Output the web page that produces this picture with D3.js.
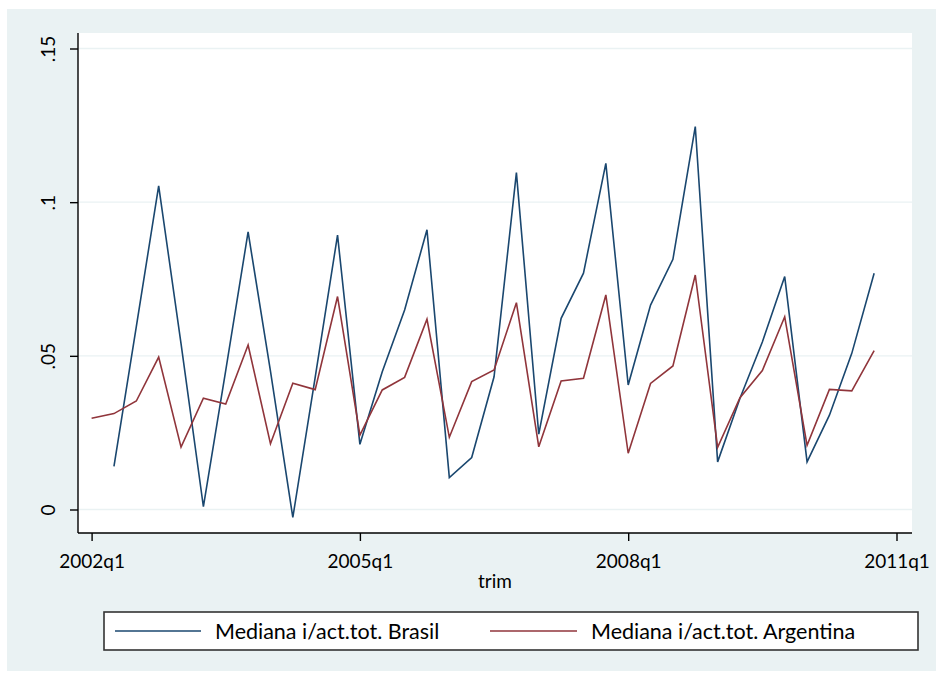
<!DOCTYPE html>
<html>
<head>
<meta charset="utf-8">
<script src="https://cdn.jsdelivr.net/npm/d3@7/dist/d3.min.js"></script>
<style>
  html, body { margin: 0; padding: 0; background: #ffffff; }
  svg { display: block; }
  text { font-family: Lato, "Open Sans", sans-serif; fill: #000; }
</style>
</head>
<body>
<svg id="chart" width="939" height="676"></svg>
<script>
// Quarterly medians of interest over total assets, 2002q1 .. 2010q4
const firstYear = 2002;
const brasil = [
  null,   0.0140, 0.0595, 0.1053,
  0.0540, 0.0009, 0.0453, 0.0903,
  0.0450, -0.0026, 0.0430, 0.0893,
  0.0212, 0.0448, 0.0649, 0.0910,
  0.0104, 0.0169, 0.0432, 0.1096,
  0.0245, 0.0622, 0.0769, 0.1126,
  0.0405, 0.0665, 0.0814, 0.1246,
  0.0155, 0.0362, 0.0545, 0.0758,
  0.0155, 0.0307, 0.0508, 0.0769
];
const argentina = [
  0.0297, 0.0312, 0.0353, 0.0496,
  0.0203, 0.0362, 0.0343, 0.0535,
  0.0214, 0.0411, 0.0390, 0.0693,
  0.0242, 0.0389, 0.0430, 0.0619,
  0.0235, 0.0416, 0.0454, 0.0673,
  0.0204, 0.0418, 0.0427, 0.0698,
  0.0183, 0.0410, 0.0467, 0.0763,
  0.0202, 0.0364, 0.0452, 0.0627,
  0.0209, 0.0391, 0.0386, 0.0517
];
const xTickLabels = ["2002q1", "2005q1", "2008q1", "2011q1"];
const yTickValues = [0, 0.05, 0.1, 0.15];
const yTickLabels = ["0", ".05", ".1", ".15"];
const xTitle = "trim";
const seriesNames = ["Mediana i/act.tot. Brasil", "Mediana i/act.tot. Argentina"];

// quarter label -> index counted from firstYear q1
const quarterIndex = s => {
  const m = /^(\d{4})q(\d)$/.exec(s);
  return (+m[1] - firstYear) * 4 + (+m[2] - 1);
};

const svg = d3.select("#chart");
const plot = { left: 78, right: 912, top: 33, bottom: 533 };
const colors = { brasil: "#1a476f", argentina: "#90353b" };

// graph region
svg.append("rect").attr("x", 7).attr("y", 9).attr("width", 929).attr("height", 662)
  .attr("fill", "#eaf2f3");
svg.append("rect").attr("x", plot.left).attr("y", plot.top)
  .attr("width", plot.right - plot.left).attr("height", plot.bottom - plot.top)
  .attr("fill", "#ffffff");

const x = d3.scaleLinear().domain([0, quarterIndex("2011q1")]).range([91.6, 896.5]);
const y = d3.scaleLinear().domain([0, 0.15]).range([509.5, 48.5]);

// horizontal grid
svg.append("g").selectAll("line").data(yTickValues).join("line")
  .attr("x1", plot.left).attr("x2", plot.right)
  .attr("y1", d => y(d)).attr("y2", d => y(d))
  .attr("stroke", "#eaf2f3").attr("stroke-width", 1.4);

// series lines
const line = d3.line()
  .defined(d => d != null)
  .x((d, i) => x(i))
  .y(d => y(d));

svg.append("path").datum(brasil).attr("d", line)
  .attr("fill", "none").attr("stroke", colors.brasil).attr("stroke-width", 1.6);
svg.append("path").datum(argentina).attr("d", line)
  .attr("fill", "none").attr("stroke", colors.argentina).attr("stroke-width", 1.6);

// y axis
const yAxis = d3.axisLeft(y).tickValues(yTickValues)
  .tickFormat((d, i) => yTickLabels[i]).tickSize(8).tickSizeOuter(0);
const gy = svg.append("g").attr("transform", `translate(${plot.left},0)`).call(yAxis);
gy.select(".domain").remove();
gy.append("line").attr("x1", 0).attr("x2", 0).attr("y1", plot.top).attr("y2", plot.bottom)
  .attr("stroke", "#000").attr("stroke-width", 1.4);
gy.selectAll(".tick line").attr("stroke", "#000").attr("stroke-width", 1.4);
gy.selectAll(".tick text")
  .attr("font-size", 19).attr("font-family", "Lato, sans-serif").attr("fill", "#000")
  .attr("text-anchor", "middle").attr("dominant-baseline", "central")
  .attr("x", 0).attr("y", 0).attr("dy", 0)
  .attr("transform", "translate(-31,0) rotate(-90)");

// x axis
const xAxis = d3.axisBottom(x).tickValues(xTickLabels.map(quarterIndex))
  .tickFormat((d, i) => xTickLabels[i]).tickSize(8).tickSizeOuter(0);
const gx = svg.append("g").attr("transform", `translate(0,${plot.bottom})`).call(xAxis);
gx.select(".domain").remove();
gx.append("line").attr("x1", plot.left).attr("x2", plot.right).attr("y1", 0).attr("y2", 0)
  .attr("stroke", "#000").attr("stroke-width", 1.4);
gx.selectAll(".tick line").attr("stroke", "#000").attr("stroke-width", 1.4);
gx.selectAll(".tick text")
  .attr("font-size", 19).attr("font-family", "Lato, sans-serif").attr("fill", "#000")
  .attr("y", 27).attr("dy", 0).attr("dominant-baseline", "central");

// x title
svg.append("text").attr("x", 495).attr("y", 580)
  .attr("text-anchor", "middle").attr("dominant-baseline", "central")
  .attr("font-size", 19).text(xTitle);

// legend
const lg = svg.append("g");
lg.append("rect").attr("x", 104).attr("y", 612).attr("width", 814).attr("height", 38)
  .attr("fill", "#ffffff").attr("stroke", "#333333").attr("stroke-width", 1.6);
const legendItems = [
  { name: seriesNames[0], color: colors.brasil, x0: 115, x1: 201, tx: 215 },
  { name: seriesNames[1], color: colors.argentina, x0: 490, x1: 577, tx: 591 }
];
legendItems.forEach(it => {
  lg.append("line").attr("x1", it.x0).attr("x2", it.x1).attr("y1", 631).attr("y2", 631)
    .attr("stroke", it.color).attr("stroke-width", 1.6);
  lg.append("text").attr("x", it.tx).attr("y", 631).attr("dominant-baseline", "central")
    .attr("font-size", 21.5).text(it.name);
});
</script>
</body>
</html>
